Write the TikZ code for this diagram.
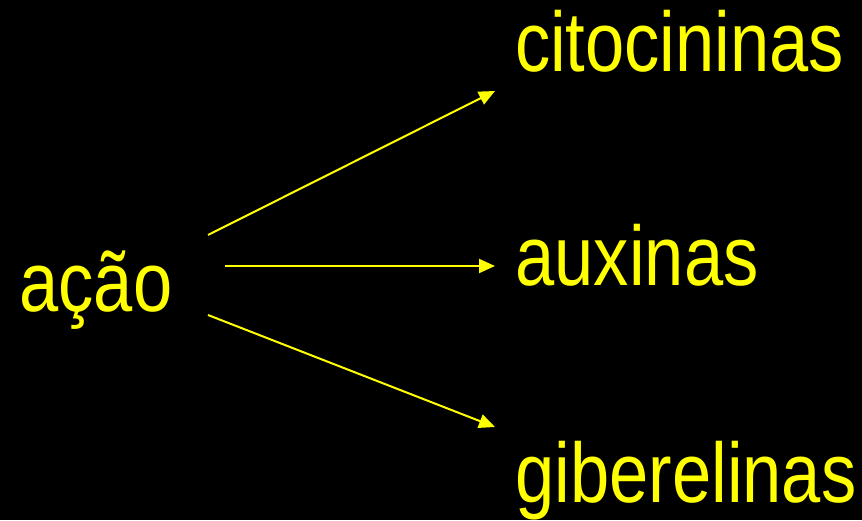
\documentclass[tikz,border=0pt]{standalone}
\usepackage{fontspec}
\setmainfont{Liberation Sans}
\usetikzlibrary{arrows.meta}
\definecolor{ylw}{RGB}{255,255,0}
\newcommand\stretched[1]{\scalebox{1}[1.2]{#1}}
\tikzset{
  lbl/.style={anchor=base west, inner sep=0pt, outer sep=0pt, text=ylw,
    font=\fontsize{70.5}{80}\selectfont},
  conn/.style={draw=ylw, line width=2pt, -{Triangle[length=16pt,width=14pt]}}
}
\begin{document}
\begin{tikzpicture}[x=1pt,y=1pt]
  \fill[black] (0,0) rectangle (862,520);
  \useasboundingbox (0,0) rectangle (862,520);
  \node[lbl] (acao) at (19.5,209) {\stretched{ação}};
  \node[lbl] (cito) at (515,448) {\stretched{citocininas}};
  \node[lbl] (aux) at (515.5,234) {\stretched{auxinas}};
  \node[lbl] (gib) at (515.5,18) {\stretched{giberelinas}};
  \coordinate (s1) at (208,285);
  \coordinate (e1) at (495,429);
  \coordinate (s2) at (225,254);
  \coordinate (e2) at (495,254);
  \coordinate (s3) at (208,205);
  \coordinate (e3) at (495,93);
  \draw[conn] (s1) -- (e1);
  \draw[conn] (s2) -- (e2);
  \draw[conn] (s3) -- (e3);
\end{tikzpicture}
\end{document}
